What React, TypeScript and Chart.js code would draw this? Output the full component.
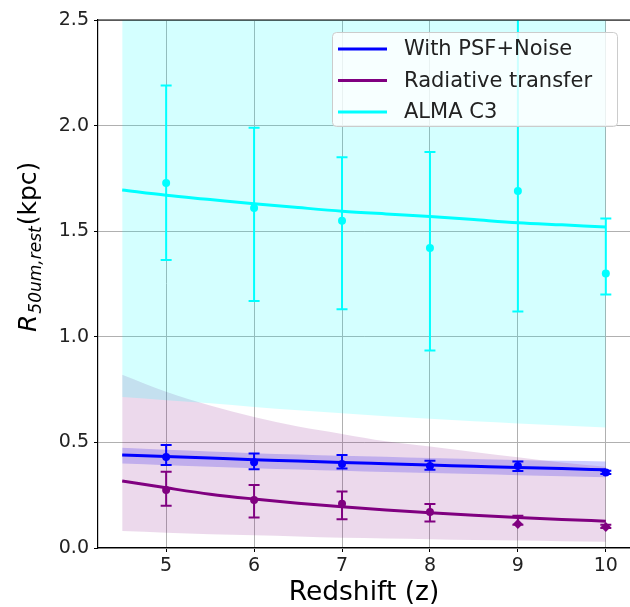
import React, { useEffect, useRef } from "react";
import { Chart, registerables } from "chart.js";

Chart.register(...registerables);

// ---- data ----
const xBand = [4.5, 5, 5.5, 6, 6.5, 7, 7.5, 8, 8.5, 9, 9.5, 10];
const cyanLower = [0.715, 0.7, 0.685, 0.668, 0.652, 0.638, 0.624, 0.612, 0.6, 0.59, 0.58, 0.57];
const purpleLower = [0.08, 0.072, 0.065, 0.06, 0.055, 0.048, 0.045, 0.042, 0.038, 0.035, 0.032, 0.03];
const purpleUpper = [0.82, 0.74, 0.675, 0.62, 0.575, 0.54, 0.505, 0.48, 0.455, 0.43, 0.405, 0.385];
const blueLower = [0.4, 0.392, 0.385, 0.378, 0.372, 0.366, 0.36, 0.355, 0.35, 0.345, 0.34, 0.335];
const blueUpper = [0.475, 0.465, 0.457, 0.449, 0.443, 0.437, 0.432, 0.426, 0.421, 0.417, 0.413, 0.41];
const blueLine = [0.44, 0.433, 0.426, 0.418, 0.412, 0.405, 0.399, 0.393, 0.387, 0.381, 0.376, 0.37];
const purpleLine = [0.317, 0.285, 0.255, 0.232, 0.212, 0.195, 0.18, 0.167, 0.155, 0.144, 0.135, 0.127];
const cyanLine = [1.695, 1.67, 1.65, 1.63, 1.612, 1.595, 1.582, 1.57, 1.555, 1.54, 1.53, 1.52];

const zPts = [5, 6, 7, 8, 9, 10];
const blueVals = [0.431, 0.406, 0.398, 0.388, 0.388, 0.358];
const blueLo = [0.393, 0.373, 0.377, 0.37, 0.365, 0.35];
const blueHi = [0.488, 0.448, 0.44, 0.413, 0.41, 0.366];
const purpleVals = [0.275, 0.227, 0.21, 0.17, 0.114, 0.1];
const purpleLo = [0.2, 0.144, 0.136, 0.125, 0.11, 0.095];
const purpleHi = [0.361, 0.298, 0.267, 0.208, 0.153, 0.11];
const cyanVals = [1.728, 1.61, 1.55, 1.42, 1.69, 1.3];
const cyanLo = [1.364, 1.17, 1.13, 0.935, 1.12, 1.2];
const cyanHi = [2.19, 1.99, 1.85, 1.875, 2.6, 1.56];

const seriesLabels = ["With PSF+Noise", "Radiative transfer", "ALMA C3"];
const seriesColors = ["#0000ff", "#800080", "#00ffff"];
const xTicks = [5, 6, 7, 8, 9, 10];
const yTicks = [0, 0.5, 1.0, 1.5, 2.0, 2.5];
const xTitle = "Redshift (z)";

const FONT = "'DejaVu Sans', sans-serif";

const pts = (xs: number[], ys: number[]) => xs.map((x, i) => ({ x, y: ys[i] }));

const bandDs = (data: number[], fill: any, color: string) => ({
  data: pts(xBand, data),
  borderWidth: 0,
  borderColor: "rgba(0,0,0,0)",
  pointRadius: 0,
  fill,
  backgroundColor: color,
  cubicInterpolationMode: "monotone",
  order: 10,
});

const lineDs = (label: string, data: number[], color: string) => ({
  label,
  data: pts(xBand, data),
  borderWidth: 3,
  borderColor: color,
  pointRadius: 0,
  fill: false,
  cubicInterpolationMode: "monotone",
  order: 5,
});

const pointDs = (vals: number[], lo: number[], hi: number[], color: string, styles?: string[]) => ({
  data: pts(zPts, vals),
  showLine: false,
  pointRadius: styles ? styles.map((s) => (s === "rectRot" ? 5 : 4)) : 4,
  pointStyle: styles || "circle",
  pointBackgroundColor: color,
  pointBorderColor: color,
  pointBorderWidth: 0,
  errLo: lo,
  errHi: hi,
  errColor: color,
  order: 1,
});

const errorBarPlugin = {
  id: "errorBars",
  beforeDatasetDraw(chart: any, args: any) {
    const ds = chart.data.datasets[args.index];
    if (!ds.errLo) return;
    const { ctx, chartArea } = chart;
    const xs = chart.scales.x;
    const ys = chart.scales.y;
    ctx.save();
    ctx.beginPath();
    ctx.rect(chartArea.left, chartArea.top, chartArea.right - chartArea.left, chartArea.bottom - chartArea.top);
    ctx.clip();
    ctx.strokeStyle = ds.errColor;
    ctx.lineWidth = 2;
    ds.data.forEach((p: any, i: number) => {
      const px = xs.getPixelForValue(p.x);
      const y1 = ys.getPixelForValue(ds.errLo[i]);
      const y2 = ys.getPixelForValue(ds.errHi[i]);
      ctx.beginPath();
      ctx.moveTo(px, y1);
      ctx.lineTo(px, y2);
      ctx.moveTo(px - 5.5, y1);
      ctx.lineTo(px + 5.5, y1);
      ctx.moveTo(px - 5.5, y2);
      ctx.lineTo(px + 5.5, y2);
      ctx.stroke();
    });
    ctx.restore();
  },
};

const decorPlugin = {
  id: "decor",
  afterDraw(chart: any) {
    const { ctx, chartArea } = chart;
    ctx.save();
    // top spine
    ctx.strokeStyle = "#000";
    ctx.lineWidth = 1.2;
    ctx.beginPath();
    ctx.moveTo(chartArea.left, chartArea.top);
    ctx.lineTo(chartArea.right, chartArea.top);
    ctx.stroke();

    // legend
    const bx = 332, by = 32, bw = 285, bh = 94;
    ctx.beginPath();
    (ctx as any).roundRect(bx + 0.5, by + 0.5, bw, bh, 4);
    ctx.fillStyle = "rgba(255,255,255,0.8)";
    ctx.fill();
    ctx.strokeStyle = "#cccccc";
    ctx.lineWidth = 1;
    ctx.stroke();
    ctx.font = `21px ${FONT}`;
    ctx.textBaseline = "middle";
    ctx.textAlign = "left";
    seriesLabels.forEach((lab, i) => {
      const yy = 49 + i * 31.5;
      ctx.strokeStyle = seriesColors[i];
      ctx.lineWidth = 3;
      ctx.beginPath();
      ctx.moveTo(338, yy);
      ctx.lineTo(387, yy);
      ctx.stroke();
      ctx.fillStyle = "#222";
      ctx.fillText(lab, 404, yy + 1);
    });

    // x title
    ctx.fillStyle = "#000";
    ctx.font = `26.5px ${FONT}`;
    ctx.textAlign = "center";
    ctx.textBaseline = "alphabetic";
    ctx.fillText(xTitle, (chartArea.left + chartArea.right) / 2, 600);

    // y title with subscript
    ctx.translate(36, 332);
    ctx.rotate(-Math.PI / 2);
    ctx.textAlign = "left";
    const big = `25px ${FONT}`;
    const bigIt = `italic 25px ${FONT}`;
    const sub = `italic 17px ${FONT}`;
    let cx = 0;
    ctx.font = bigIt;
    ctx.fillText("R", cx, 0);
    cx += ctx.measureText("R").width + 1;
    ctx.font = sub;
    ctx.fillText("50um,rest", cx, 5);
    cx += ctx.measureText("50um,rest").width + 1;
    ctx.font = big;
    ctx.fillText("(kpc)", cx, 0);
    ctx.restore();
  },
};

export default function App() {
  const ref = useRef<HTMLCanvasElement | null>(null);
  useEffect(() => {
    document.body.style.margin = "0";
    const canvas = ref.current!;
    const chart = new Chart(canvas, {
      type: "line",
      data: {
        datasets: [
          pointDs(blueVals, blueLo, blueHi, seriesColors[0]),
          pointDs(purpleVals, purpleLo, purpleHi, seriesColors[1], ["circle", "circle", "circle", "circle", "rectRot", "rectRot"]),
          pointDs(cyanVals, cyanLo, cyanHi, seriesColors[2]),
          lineDs(seriesLabels[0], blueLine, seriesColors[0]),
          lineDs(seriesLabels[1], purpleLine, seriesColors[1]),
          lineDs(seriesLabels[2], cyanLine, seriesColors[2]),
          bandDs(cyanLower, "end", "rgba(0,255,255,0.17)"),
          bandDs(purpleLower, false, "rgba(0,0,0,0)"),
          bandDs(purpleUpper, "-1", "rgba(128,0,128,0.15)"),
          bandDs(blueLower, false, "rgba(0,0,0,0)"),
          bandDs(blueUpper, "-1", "rgba(0,0,255,0.2)"),
        ] as any,
      },
      options: {
        animation: false,
        responsive: false,
        devicePixelRatio: 1,
        layout: { autoPadding: false, padding: { top: 20, right: 0, left: 0, bottom: 0 } },
        plugins: { legend: { display: false }, tooltip: { enabled: false } },
        scales: {
          x: {
            type: "linear",
            min: 4.225,
            max: 10.275,
            afterBuildTicks: (s: any) => {
              s.ticks = xTicks.map((v) => ({ value: v }));
            },
            afterFit: (s: any) => {
              s.height = 59;
              s.paddingLeft = 0;
              s.paddingRight = 0;
            },
            grid: { color: "#b0b0b0", lineWidth: 1, tickColor: "#000", tickLength: 4 },
            border: { color: "#000", width: 1.2 },
            ticks: {
              font: { family: FONT, size: 19 },
              color: "#222",
              padding: 3,
              maxRotation: 0,
              callback: (v: any) => String(v),
            },
          },
          y: {
            type: "linear",
            min: 0,
            max: 2.5,
            afterBuildTicks: (s: any) => {
              s.ticks = yTicks.map((v) => ({ value: v }));
            },
            afterFit: (s: any) => {
              s.width = 98;
              s.paddingTop = 0;
              s.paddingBottom = 0;
            },
            grid: { color: "#b0b0b0", lineWidth: 1, tickColor: "#000", tickLength: 4 },
            border: { color: "#000", width: 1.2 },
            ticks: {
              font: { family: FONT, size: 19 },
              color: "#222",
              padding: 5,
              callback: (v: any) => Number(v).toFixed(1),
            },
          },
        },
      } as any,
      plugins: [errorBarPlugin, decorPlugin],
    });
    return () => chart.destroy();
  }, []);
  return (
    <div style={{ width: 630, height: 607, background: "#fff" }}>
      <canvas ref={ref} width={630} height={607} style={{ width: 630, height: 607, display: "block" }} />
    </div>
  );
}
